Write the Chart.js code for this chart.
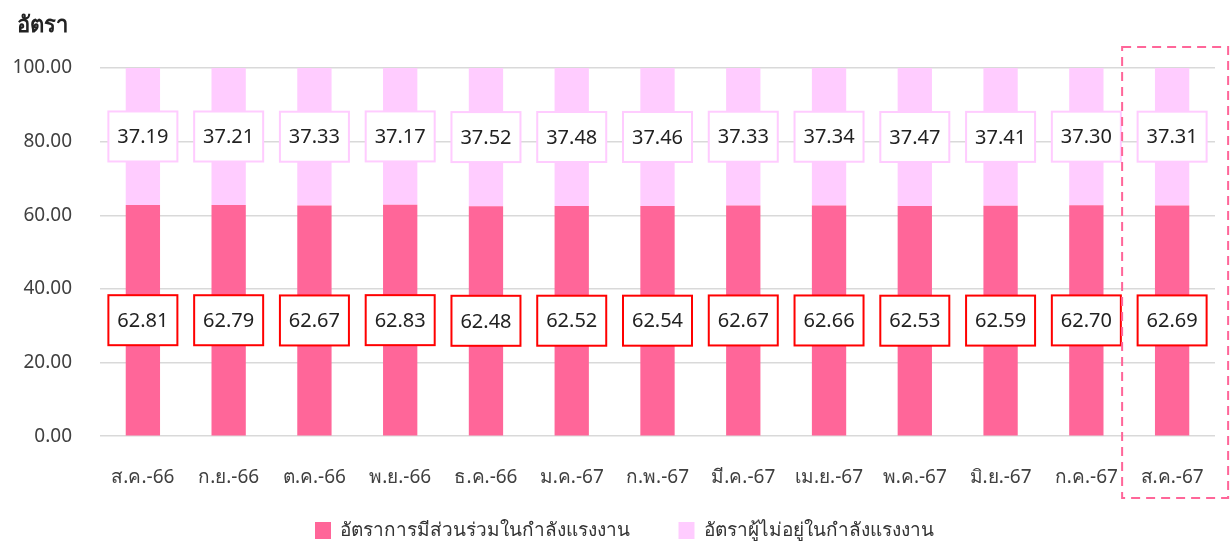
<!DOCTYPE html>
<html>
<head>
<meta charset="utf-8">
<script src="https://cdn.jsdelivr.net/npm/chart.js@4/dist/chart.umd.min.js"></script>
<style>
  html, body { margin: 0; padding: 0; background: #fff; }
</style>
</head>
<body>
<canvas id="rate-chart" width="1231" height="542"></canvas>
<script>
var months = ['ส.ค.-66', 'ก.ย.-66', 'ต.ค.-66', 'พ.ย.-66', 'ธ.ค.-66', 'ม.ค.-67', 'ก.พ.-67',
              'มี.ค.-67', 'เม.ย.-67', 'พ.ค.-67', 'มิ.ย.-67', 'ก.ค.-67', 'ส.ค.-67'];
var participation = [62.81, 62.79, 62.67, 62.83, 62.48, 62.52, 62.54, 62.67, 62.66, 62.53, 62.59, 62.70, 62.69];
var outside = [37.19, 37.21, 37.33, 37.17, 37.52, 37.48, 37.46, 37.33, 37.34, 37.47, 37.41, 37.30, 37.31];
var yTicks = [0, 20, 40, 60, 80, 100];

var FONT = "'Noto Sans', 'Open Sans', sans-serif";

// boxed value labels in the middle of each stacked segment
var boxLabels = {
    id: 'boxLabels',
    afterDatasetsDraw: function(chart) {
        var ctx = chart.ctx;
        var borders = ['#ff0000', '#ffccff'];
        ctx.save();
        ctx.font = '20px ' + FONT;
        ctx.textAlign = 'center';
        ctx.textBaseline = 'middle';
        chart.data.datasets.forEach(function(ds, di) {
            var meta = chart.getDatasetMeta(di);
            meta.data.forEach(function(bar, i) {
                var cy = (bar.y + bar.base) / 2;
                var w = 69, h = 50;
                ctx.fillStyle = '#ffffff';
                ctx.fillRect(bar.x - w / 2, cy - h / 2, w, h);
                ctx.lineWidth = 2;
                ctx.strokeStyle = borders[di];
                ctx.strokeRect(bar.x - w / 2, cy - h / 2, w, h);
                ctx.fillStyle = '#222222';
                ctx.fillText(ds.data[i].toFixed(2), bar.x, cy + 1);
            });
        });
        ctx.restore();
    }
};

// axis caption, legend nudge and dashed frame around the latest month
var extras = {
    id: 'extras',
    afterLayout: function(chart) {
        chart.legend.left += 17;
        chart.legend.right += 17;
    },
    afterDraw: function(chart) {
        var ctx = chart.ctx;
        var x = chart.scales.x;
        var last = months.length - 1;
        var cx = x.getPixelForValue(last);
        ctx.save();
        ctx.font = 'bold 22px ' + FONT;
        ctx.fillStyle = '#222222';
        ctx.textBaseline = 'alphabetic';
        ctx.fillText('อัตรา', 17, 32);

        ctx.strokeStyle = '#ff6699';
        ctx.lineWidth = 2;
        ctx.setLineDash([9, 6]);
        ctx.strokeRect(cx - 50, chart.chartArea.top - 21, 106, 451);
        ctx.restore();
    }
};

var ctx = document.getElementById('rate-chart').getContext('2d');
window.rateChart = new Chart(ctx, {
    type: 'bar',
    data: {
        labels: months,
        datasets: [{
            label: 'อัตราการมีส่วนร่วมในกำลังแรงงาน',
            data: participation,
            backgroundColor: '#ff6699',
            barPercentage: 0.4,
            categoryPercentage: 1.0
        }, {
            label: 'อัตราผู้ไม่อยู่ในกำลังแรงงาน',
            data: outside,
            backgroundColor: '#ffccff',
            barPercentage: 0.4,
            categoryPercentage: 1.0
        }]
    },
    options: {
        responsive: false,
        animation: false,
        layout: { padding: { top: 68, right: 16, left: 0, bottom: -8 } },
        plugins: {
            tooltip: { enabled: false },
            legend: {
                position: 'bottom',
                labels: {
                    font: { size: 19, family: FONT },
                    color: '#333333',
                    boxWidth: 16,
                    boxHeight: 17,
                    padding: 10,
                    generateLabels: function(chart) {
                        var items = Chart.defaults.plugins.legend.labels.generateLabels(chart);
                        // wider gap after the first entry
                        items[0].text += '\u2002\u2002\u2002\u2002';
                        return items;
                    }
                }
            }
        },
        scales: {
            x: {
                stacked: true,
                grid: { display: false },
                border: { display: false },
                ticks: { font: { size: 19, family: FONT }, color: '#404040', padding: 22 }
            },
            y: {
                stacked: true,
                min: 0,
                max: 100,
                afterBuildTicks: function(axis) {
                    axis.ticks = yTicks.map(function(v) { return { value: v }; });
                },
                afterFit: function(axis) { axis.width = 100; },
                grid: { color: '#d9d9d9', lineWidth: 1.5, drawTicks: false },
                border: { display: false },
                ticks: {
                    font: { size: 19, family: FONT },
                    color: '#404040',
                    padding: 28,
                    callback: function(v) { return v.toFixed(2); }
                }
            }
        }
    },
    plugins: [boxLabels, extras]
});
</script>
</body>
</html>
